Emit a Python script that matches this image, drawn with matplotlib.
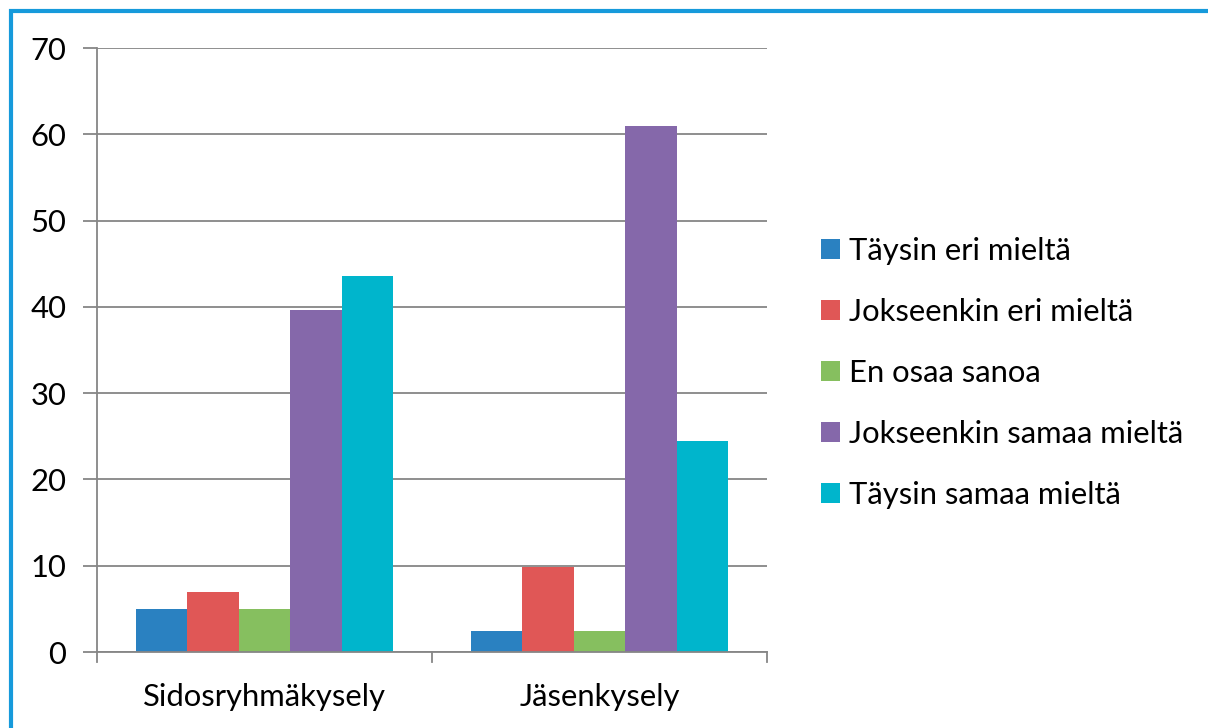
import matplotlib

matplotlib.use("Agg")
import matplotlib.pyplot as plt
import numpy as np
from matplotlib.patches import Rectangle

categories = ["Sidosryhmäkysely", "Jäsenkysely"]
series_names = [
    "Täysin eri mieltä",
    "Jokseenkin eri mieltä",
    "En osaa sanoa",
    "Jokseenkin samaa mieltä",
    "Täysin samaa mieltä",
]
täysin_eri = [5.0, 2.4]
jokseenkin_eri = [6.9, 9.8]
en_osaa = [5.0, 2.4]
jokseenkin_samaa = [39.6, 61.0]
täysin_samaa = [43.6, 24.4]
series_values = [täysin_eri, jokseenkin_eri, en_osaa, jokseenkin_samaa, täysin_samaa]
yticks = [0, 10, 20, 30, 40, 50, 60, 70]

COLORS = ["#2a81c1", "#e05756", "#86bf5f", "#8568aa", "#00b5cc"]
GRID = "#868686"
FONT = "Lato"
FS = 22.3

W, H = 1208, 728
fig = plt.figure(figsize=(W / 100, H / 100), dpi=100)
fig.patch.set_facecolor("white")

# blue frame (cropped on the right and bottom)
fig.add_artist(Rectangle((11 / W, -0.1), 2.0, (H - 11) / H + 0.1,
                         transform=fig.transFigure, facecolor="none",
                         edgecolor="#169adb", linewidth=3.0))

ax = fig.add_axes([97 / W, 1 - 652 / H, (767 - 97) / W, (652 - 48) / H])
n = len(series_values)
group_w = 0.767
bar_w = group_w / n
x = np.arange(len(categories))
for i, (name, vals) in enumerate(zip(series_names, series_values)):
    ax.bar(x - group_w / 2 + (i + 0.5) * bar_w, vals, width=bar_w,
           color=COLORS[i], label=name, zorder=3, linewidth=0)

ax.set_xlim(-0.5, len(categories) - 0.5)
ax.set_ylim(0, 70)
ax.set_yticks(yticks)
ax.set_yticklabels([str(t) for t in yticks], fontsize=FS, family=FONT)
ax.yaxis.grid(True, color=GRID, linewidth=1.3, zorder=0)
ax.tick_params(axis="y", length=10, width=1.3, color=GRID, pad=12)

# category labels between separator ticks
ax.set_xticks(x)
ax.set_xticklabels(categories, fontsize=FS, family=FONT)
ax.tick_params(axis="x", length=0, pad=22)
for xb in [-0.5, 0.5, 1.5]:
    ax.plot([xb, xb], [0, -0.017], transform=ax.get_xaxis_transform(),
            color=GRID, linewidth=1.3, clip_on=False, zorder=4)

for side in ["top", "right"]:
    ax.spines[side].set_visible(False)
for side in ["left", "bottom"]:
    ax.spines[side].set_color(GRID)
    ax.spines[side].set_linewidth(1.3)
    ax.spines[side].set_zorder(4)

leg = fig.legend(loc="center left", bbox_to_anchor=(793 / W, 1 - 373 / H),
                 frameon=False, prop={"family": FONT, "size": FS},
                 handlelength=0.62, handleheight=0.62, handletextpad=0.28,
                 labelspacing=1.07)

fig.savefig("out.png", dpi=100, facecolor="white")
